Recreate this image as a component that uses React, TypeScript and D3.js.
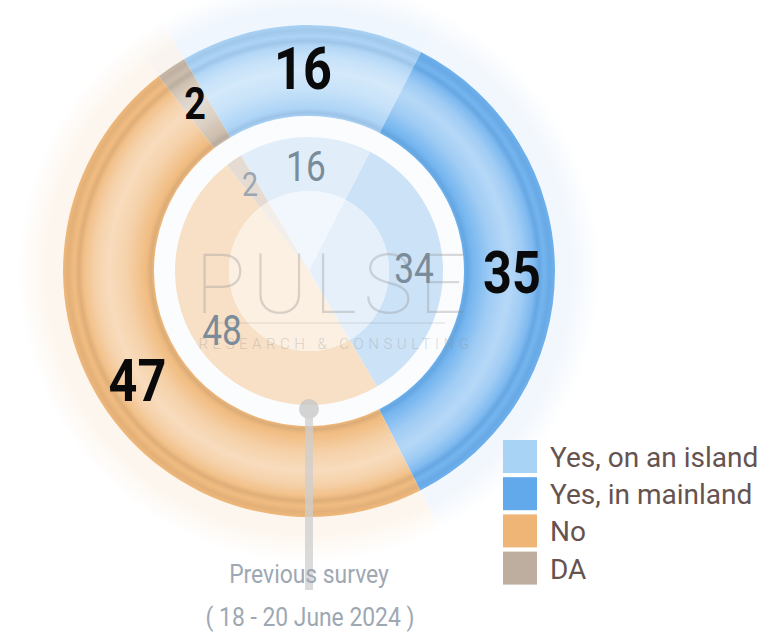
import React from "react";
import * as d3 from "d3";

const categories = ["Yes, on an island", "Yes, in mainland", "No", "DA"];
const currentValues = [16, 35, 47, 2];
const previousValues = [16, 34, 48, 2];
const ringColors = ["#A9D2F5", "#6DB1EE", "#F0B87A", "#C9B8A6"];
const legendColors = ["#A8D3F5", "#62A9EC", "#EEB576", "#BDAE9F"];
const innerColors = ["#E1EEFA", "#CCE2F7", "#F8E0C6", "#E5DBD2"];
const coreColors = ["#F1F7FD", "#E5F0FB", "#FCF0E3", "#F4EEE8"];
const haloColors = ["#F0F6FD", "#F2F7FD", "#FDF6EE", "#F9F4EF"];
const previousCaption = ["Previous survey", "( 18 - 20 June 2024 )"];
const watermark = ["PULSE", "RESEARCH & CONSULTING"];

const W = 775;
const H = 634;
const cx = 309;
const cy = 271;
const R_OUT = 246;
const R_IN = 155;
const R_HALO = 291;
const startDeg = -30.5;

const ringStops: [number, number][] = [
  [155, 0], [158, -0.12], [163, 0.05], [182, 0.35], [200, 0.5], [214, 0.35],
  [225, 0.12], [230, -0.1], [235, 0.05], [241, -0.08], [246, 0],
];

function shade(base: string, k: number) {
  return k >= 0 ? d3.interpolateRgb(base, "#ffffff")(k) : d3.interpolateRgb(base, "#1a3a60")(-k * 0.8);
}

function CondText({ x, y, sx, children, ...rest }: any) {
  return (
    <g transform={`translate(${x},${y}) scale(${sx},1)`}>
      <text x={0} y={0} {...rest}>{children}</text>
    </g>
  );
}

export default function App() {
  const start = (startDeg * Math.PI) / 180;
  const pie = d3.pie<number>().sort(null).startAngle(start).endAngle(start + 2 * Math.PI);
  const cur = pie(currentValues);
  const prev = pie(previousValues);

  const ringArc = d3.arc<any>().innerRadius(R_IN).outerRadius(R_OUT);
  const labelArc = d3.arc<any>().innerRadius(160).outerRadius(246);
  const haloArc = d3.arc<any>().innerRadius(R_OUT).outerRadius(R_HALO);
  const innerArc = d3.arc<any>().innerRadius(80).outerRadius(134);
  const innerLabelArc = d3.arc<any>().innerRadius(80).outerRadius(130);
  const coreArc = d3.arc<any>().innerRadius(0).outerRadius(80);

  const bigSize = (v: number) => (v < 5 ? 45 : 60);
  const smallSize = (v: number) => (v < 5 ? 34 : 42);

  return (
    <svg width={W} height={H} style={{ position: "absolute", left: 0, top: 0, background: "#fff" }}>
      <defs>
        {ringColors.map((c, i) => (
          <radialGradient key={i} id={`ring-${i}`} gradientUnits="userSpaceOnUse" cx={0} cy={0} r={R_OUT}>
            {ringStops.map(([r, k], j) => (
              <stop key={j} offset={r / R_OUT} stopColor={shade(c, k)} />
            ))}
          </radialGradient>
        ))}
        {haloColors.map((c, i) => (
          <radialGradient key={i} id={`halo-${i}`} gradientUnits="userSpaceOnUse" cx={0} cy={0} r={R_HALO}>
            <stop offset={R_OUT / R_HALO} stopColor={c} />
            <stop offset={0.9} stopColor={c} />
            <stop offset={1} stopColor="#ffffff" />
          </radialGradient>
        ))}
      </defs>

      <g transform={`translate(${cx},${cy})`}>
        {cur.map((d, i) => (
          <path key={`h${i}`} d={haloArc(d) as string} fill={`url(#halo-${i})`} />
        ))}
        <circle r={R_IN} fill="#FBFCFE" />
        {prev.map((d, i) => (
          <path key={`in${i}`} d={innerArc(d) as string} fill={innerColors[i]} />
        ))}
        {prev.map((d, i) => (
          <path key={`co${i}`} d={coreArc(d) as string} fill={coreColors[i]} />
        ))}
        {cur.map((d, i) => (
          <path key={`ring${i}`} d={ringArc(d) as string} fill={`url(#ring-${i})`} />
        ))}
      </g>

      <g opacity={0.32} fill="#8f8f8f" fontFamily="Roboto, 'Noto Sans', sans-serif">
        <text x={334} y={313} fontSize={84} fontWeight={100} textAnchor="middle" letterSpacing={6}>
          {watermark[0]}
        </text>
        <line x1={217} x2={445} y1={323} y2={323} stroke="#9a9a9a" strokeWidth={1} />
        <text x={336} y={349} fontSize={15} fontWeight={300} textAnchor="middle" letterSpacing={4.5}>
          {watermark[1]}
        </text>
      </g>

      <g opacity={0.75}>
        <line x1={309} x2={309} y1={409} y2={590} stroke="#cfcfcf" strokeWidth={8} />
        <circle cx={309} cy={409} r={10} fill="#c6c6c6" />
      </g>

      <g fontFamily="Roboto, 'Noto Sans', sans-serif" textAnchor="middle">
        {prev.map((d, i) => {
          const [x, y] = innerLabelArc.centroid(d);
          return (
            <CondText
              key={`pl${i}`}
              x={cx + x}
              y={cy + y}
              sx={0.84}
              fontSize={smallSize(d.data)}
              dy="0.355em"
              fill={d.data < 5 ? "#9aa6b1" : "#7a8b99"}
            >
              {d.data}
            </CondText>
          );
        })}
        {cur.map((d, i) => {
          const [x, y] = labelArc.centroid(d);
          return (
            <CondText
              key={`cl${i}`}
              x={cx + x}
              y={cy + y}
              sx={0.84}
              fontSize={bigSize(d.data)}
              fontWeight={700}
              dy="0.355em"
              fill="#0a0a0a"
            >
              {d.data}
            </CondText>
          );
        })}
      </g>

      <g fontFamily="Roboto, 'Noto Sans', sans-serif">
        {categories.map((c, i) => (
          <g key={c} transform={`translate(503,${440 + i * 37.2})`}>
            <rect width={34} height={33} fill={legendColors[i]} />
            <text x={47} y={27} fontSize={28} fill="#66534f">{c}</text>
          </g>
        ))}
      </g>

      <g fontFamily="Roboto, 'Noto Sans', sans-serif" fill="#9ea8b3" textAnchor="middle">
        <CondText x={309} y={583} sx={0.88} fontSize={26}>{previousCaption[0]}</CondText>
        <CondText x={310} y={626} sx={0.88} fontSize={26}>{previousCaption[1]}</CondText>
      </g>
    </svg>
  );
}
